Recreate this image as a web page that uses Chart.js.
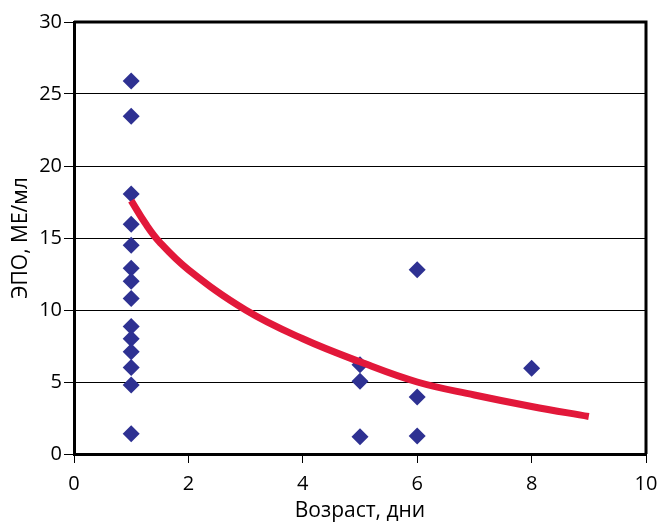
<!DOCTYPE html>
<html lang="ru">
<head>
    <meta charset="UTF-8">
    <title>ЭПО и возраст</title>
    <script src="https://cdn.jsdelivr.net/npm/chart.js"></script>
    <style>
        html, body {
            margin: 0;
            padding: 0;
            background: #fff;
        }

        #wrap {
            width: 659px;
            height: 524px;
        }
    </style>
</head>
<body>
<div id="wrap">
    <canvas id="epoChart" width="659" height="524"></canvas>
</div>

<script>
    // возраст (дни) и ЭПО (МЕ/мл) для каждой точки
    const ageDays = [1, 1, 1, 1, 1, 1, 1, 1, 1, 1, 1, 1, 1, 1, 5, 5, 5, 6, 6, 6, 8];
    const epoValues = [25.9, 23.45, 18.05, 15.95, 14.5, 12.9, 12.0, 10.8, 8.85, 8.0, 7.1, 6.0, 4.8, 1.4,
        6.2, 5.05, 1.2, 12.8, 3.95, 1.25, 5.95];

    // линия тренда
    const trendX = [1, 1.25, 1.5, 2, 3, 4, 5, 6, 7, 8, 9];
    const trendY = [17.6, 16.0, 14.7, 12.8, 10.0, 8.0, 6.4, 5.0, 4.1, 3.3, 2.6];

    const xTicks = [0, 2, 4, 6, 8, 10];
    const yTicks = [0, 5, 10, 15, 20, 25, 30];

    const fontFamily = '"Open Sans", "DejaVu Sans", sans-serif';

    // рамка вокруг области построения
    const frame = {
        id: 'frame',
        afterDatasetsDraw(chart) {
            const {ctx, chartArea: a} = chart;
            ctx.save();
            ctx.strokeStyle = '#000';
            ctx.lineWidth = 3;
            ctx.beginPath();
            ctx.moveTo(a.left, a.top);
            ctx.lineTo(a.right, a.top);
            ctx.lineTo(a.right, a.bottom);
            ctx.stroke();
            ctx.restore();
        }
    };

    const points = ageDays.map((x, i) => ({x: x, y: epoValues[i]}));
    const trend = trendX.map((x, i) => ({x: x, y: trendY[i]}));

    const ctx = document.getElementById('epoChart').getContext('2d');
    new Chart(ctx, {
        type: 'scatter',
        data: {
            datasets: [
                {
                    type: 'line',
                    data: trend,
                    borderColor: '#E2183A',
                    borderWidth: 7,
                    borderCapStyle: 'butt',
                    tension: 0.4,
                    pointRadius: 0,
                    fill: false,
                    order: 0
                },
                {
                    data: points,
                    pointStyle: 'rectRot',
                    pointRadius: 8.5,
                    backgroundColor: '#2E3192',
                    borderColor: '#2E3192',
                    borderWidth: 0,
                    order: 1
                }
            ]
        },
        options: {
            responsive: false,
            animation: false,
            layout: {
                padding: {left: 0, right: 13, top: 22, bottom: 0}
            },
            plugins: {
                legend: {display: false},
                tooltip: {enabled: false}
            },
            scales: {
                x: {
                    type: 'linear',
                    min: 0,
                    max: 10,
                    afterBuildTicks: (s) => { s.ticks = xTicks.map(v => ({value: v})); },
                    afterFit: (s) => {
                        s.height = 70;
                        s.paddingLeft = 0;
                        s.paddingRight = 0;
                    },
                    grid: {
                        drawOnChartArea: false,
                        color: '#000',
                        tickLength: 9,
                        tickWidth: 1
                    },
                    border: {color: '#000', width: 3},
                    ticks: {
                        color: '#000',
                        padding: 9,
                        font: {family: fontFamily, size: 20}
                    },
                    title: {
                        display: true,
                        text: 'Возраст, дни',
                        color: '#000',
                        padding: {top: 0, bottom: 0},
                        font: {family: fontFamily, size: 21}
                    }
                },
                y: {
                    type: 'linear',
                    min: 0,
                    max: 30,
                    afterBuildTicks: (s) => { s.ticks = yTicks.map(v => ({value: v})); },
                    afterFit: (s) => {
                        s.width = 74;
                        s.paddingTop = 0;
                        s.paddingBottom = 0;
                    },
                    grid: {
                        color: '#000',
                        lineWidth: 1,
                        tickLength: 10
                    },
                    border: {color: '#000', width: 3},
                    ticks: {
                        color: '#000',
                        padding: 2,
                        font: {family: fontFamily, size: 20}
                    },
                    title: {
                        display: true,
                        text: 'ЭПО, МЕ/мл',
                        color: '#000',
                        padding: {top: 8, bottom: 0},
                        font: {family: fontFamily, size: 21}
                    }
                }
            }
        },
        plugins: [frame]
    });
</script>
</body>
</html>
